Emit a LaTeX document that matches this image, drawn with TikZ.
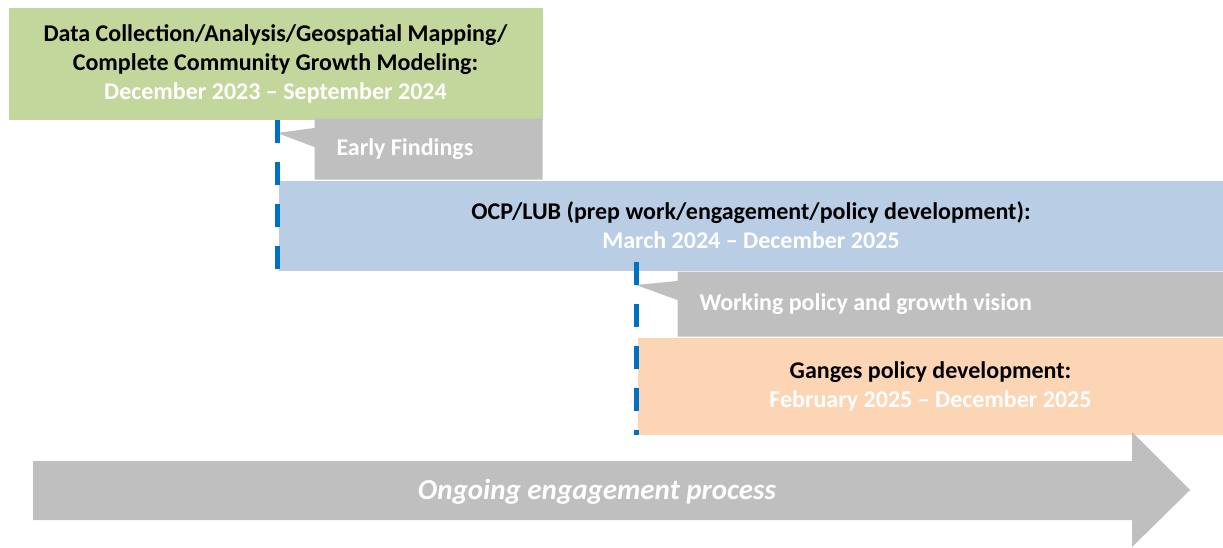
\documentclass[tikz,border=0pt]{standalone}
\usepackage{fontspec}
\setmainfont{Carlito}
\usetikzlibrary{positioning,shapes.callouts}
\definecolor{phaseGreen}{HTML}{C3D69B}
\definecolor{phaseBlue}{HTML}{B9CDE5}
\definecolor{phasePeach}{HTML}{FCD5B5}
\definecolor{noteGrey}{HTML}{BFBFBF}
\definecolor{markBlue}{HTML}{0070C0}

\begin{document}
\begin{tikzpicture}[x=1pt, y=-1pt, line width=1pt,
    phase/.style={anchor=north west, inner sep=0pt, align=center, font=\fontsize{24}{29}\selectfont\bfseries},
    note/.style={rectangle callout, fill=noteGrey, text=white, align=flush left, inner xsep=22pt, inner ysep=0pt, minimum height=61pt, callout pointer width=19pt, font=\fontsize{24}{29}\selectfont\bfseries},
    marker/.style={draw=markBlue, line width=5pt, dash pattern=on 23pt off 19pt}]

    \useasboundingbox (0,0) rectangle (1223,547);

    \coordinate (tipA) at (277,133);
    \coordinate (tipB) at (636,285);

    \node[phase, fill=phaseGreen, minimum width=534pt, minimum height=112pt] (collect) at (8,7) {Data Collection/Analysis/Geospatial Mapping/\\Complete Community Growth Modeling:\\\textcolor{white}{December 2023 – September 2024}};
    \node[phase, fill=phaseBlue, minimum width=945pt, minimum height=90pt] (ocp) at (278,180) {OCP/LUB (prep work/engagement/policy development):\\\textcolor{white}{March 2024 – December 2025}};
    \node[note, anchor=south east, text width=184pt, callout absolute pointer=(tipA)] (early) at (collect.south east |- ocp.north) {Early Findings};
    \node[note, anchor=north east, minimum height=65pt, text width=502pt, callout absolute pointer=(tipB)] (working) at (ocp.south east) {Working policy and growth vision};
    \node[phase, anchor=north east, fill=phasePeach, minimum width=586pt, minimum height=97pt] (ganges) at (working.south east) {Ganges policy development:\\\textcolor{white}{February 2025 – December 2025}};

    \draw[marker] (tipA |- collect.south) -- (tipA |- ocp.south);
    \draw[marker] ([yshift=9pt]tipB |- ocp.south) -- (tipB |- ganges.south);

    % ongoing engagement arrow
    \fill[noteGrey] (33,461) -- (1132,461) -- (1132,432) -- (1190,490) -- (1132,547) -- (1132,520) -- (33,520) -- cycle;
    \node[text=white, font=\fontsize{29}{32}\selectfont\bfseries\itshape] (flowText) at (597,492) {Ongoing engagement process};

\end{tikzpicture}
\end{document}
